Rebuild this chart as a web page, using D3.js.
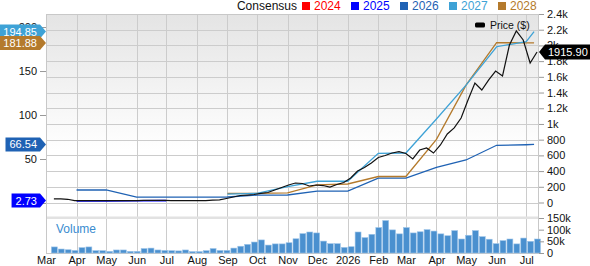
<!DOCTYPE html>
<html>
<head>
<meta charset="utf-8">
<script src="https://cdn.jsdelivr.net/npm/d3@7"></script>
<style>
  body { margin: 0; background: #fff; }
  svg text { font-family: "Liberation Sans", Arial, sans-serif; }
</style>
</head>
<body>
<div id="chart"></div>
<script>
// weekly volume (thousands), first week starts 2025-03-06
const volumeK = [26,17,14,11,23,26,10,10,7,13,13,7,7,19,21,13,11,10,9,13,6,6,10,19,11,11,21,29,37,47,
  56,34,39,39,44,61,83,90,86,51,40,40,24,27,90,66,80,109,139,99,82,109,86,91,100,94,82,74,96,60,
  76,96,70,59,40,53,60,39,64,50,60];
// weekly close price ($), same weeks
const price = [45,45,41,25,23,23,23,23,24,24,25,25,25,26,27,27,26,24,24,23,23,24,25,29,34,51,70,89,95,102,
  115,127,159,191,223,248,242,210,223,216,197,229,255,312,401,446,503,573,598,630,647,624,554,668,694,630,
  732,872,949,1076,1305,1522,1432,1560,1674,1611,2005,2184,2069,1776,1915.9];

// consensus EPS estimates
const dates2025 = ["2025-04-01","2025-05-01","2025-06-01","2025-07-01"];
const eps2025 = [2.3,2.35,2.6,2.73];
const dates2026 = ["2025-04-01","2025-05-01","2025-06-01","2025-07-01","2025-08-01","2025-09-01","2025-10-01",
  "2025-11-01","2025-12-01","2026-01-01","2026-02-01","2026-03-01","2026-04-01","2026-05-01","2026-06-01","2026-07-01","2026-07-09"];
const eps2026 = [14.8,14.8,6.6,6.6,6.6,6.8,9.0,9.1,13.6,13.6,28.2,28.2,40.6,48.9,65.6,66.2,66.54];
const datesLate = ["2025-09-01","2025-10-01","2025-11-01","2025-12-01","2026-01-01","2026-02-01","2026-03-01",
  "2026-04-01","2026-05-01","2026-06-01","2026-07-01","2026-07-09"];
const eps2027 = [10.2,11,18.5,24.7,24.7,56.5,56.8,95.5,134,177.6,183.3,194.85];
const eps2028 = [11,11,11.4,20.5,21.6,30.1,30.1,72.4,134,182.2,182,181.88];

const legendYears = ["2024","2025","2026","2027","2028"];
const yearColors = ["#ff0000","#0000ff","#1f62b4","#3ea2d6","#b47a2c"];
const priceTicks = [0,200,400,600,800,1000,1200,1400,1600,1800,2000,2200,2400];
const epsTicks = [0,50,100,150,200];
const volTicks = [0,50,100,150];

const W = 590, H = 266;
const L = 46, R = 539, T = 14, PB = 202.5, VT = 218, VB = 253;
const parse = d3.utcParse("%Y-%m-%d");
const week0 = parse("2025-03-06");
const weeks = volumeK.map((v, i) => d3.utcDay.offset(week0, 7 * i));

const x = d3.scaleUtc().domain([parse("2025-03-01"), parse("2026-07-14")]).range([L, R]);
const yL = d3.scaleLinear().domain([0, 214.8]).range([203, T]);
const yR = d3.scaleLinear().domain([0, 2400]).range([PB, T]);
const yV = d3.scaleLinear().domain([0, 150]).range([VB, VT]);

const svg = d3.select("#chart").append("svg").attr("width", W).attr("height", H);

const grad = svg.append("defs").append("linearGradient")
  .attr("id", "bg").attr("gradientUnits", "userSpaceOnUse")
  .attr("x1", 0).attr("x2", 0).attr("y1", T).attr("y2", 150);
grad.append("stop").attr("offset", 0).attr("stop-color", "#e4e4e4");
grad.append("stop").attr("offset", 1).attr("stop-color", "#ffffff");

svg.append("rect").attr("x", L).attr("y", T).attr("width", R - L).attr("height", VB - T).attr("fill", "url(#bg)");

// grid
const months = d3.utcMonth.range(parse("2025-04-01"), parse("2026-07-02"));
svg.append("g").selectAll("line").data(months).join("line")
  .attr("x1", d => Math.round(x(d)) + 0.5).attr("x2", d => Math.round(x(d)) + 0.5)
  .attr("y1", T).attr("y2", VB).attr("stroke", "#cccccc");
svg.append("g").selectAll("line").data(priceTicks).join("line")
  .attr("x1", L).attr("x2", R)
  .attr("y1", d => Math.round(yR(d)) + 0.5).attr("y2", d => Math.round(yR(d)) + 0.5)
  .attr("stroke", "#cccccc");
svg.append("rect").attr("x", L).attr("y", VT - 1.5).attr("width", R - L).attr("height", 2.5).attr("fill", "#e2e2e2");
svg.append("rect").attr("x", L + 0.5).attr("y", T + 0.5).attr("width", R - L - 1).attr("height", VB - T)
  .attr("fill", "none").attr("stroke", "#c8c8c8");

// volume
svg.append("g").selectAll("rect").data(weeks).join("rect")
  .attr("x", d => x(d) + 0.5)
  .attr("width", d => x(d3.utcDay.offset(d, 7)) - x(d) - 1)
  .attr("y", (d, i) => yV(volumeK[i]))
  .attr("height", (d, i) => VB - yV(volumeK[i]))
  .attr("fill", "#4a90cf").attr("stroke", "#9cc4e8").attr("stroke-width", 0.6);

svg.append("text").attr("x", 56).attr("y", 233).attr("font-size", 12).attr("fill", "#3a8ccf").text("Volume");

// lines
const lineL = d3.line().x(d => x(d[0])).y(d => yL(d[1]));
function epsLine(dates, vals, color, w) {
  svg.append("path").datum(dates.map((d, i) => [parse(d), vals[i]]))
    .attr("d", lineL).attr("fill", "none").attr("stroke", color).attr("stroke-width", w);
}
epsLine(dates2026, eps2026, yearColors[2], 1.3);
epsLine(dates2025, eps2025, yearColors[1], 1.6);
epsLine(datesLate, eps2028, yearColors[4], 1.3);
epsLine(datesLate, eps2027, yearColors[3], 1.3);

const lineP = d3.line().x(d => x(d3.utcDay.offset(d[0], 3.5))).y(d => yR(d[1]));
svg.append("path").datum(weeks.map((d, i) => [d, price[i]]))
  .attr("d", lineP).attr("fill", "none").attr("stroke", "#111").attr("stroke-width", 1.2);

// axes
function styleAxis(g) {
  g.select(".domain").remove();
  g.selectAll(".tick line").attr("stroke", "#999");
  g.selectAll(".tick text").attr("font-size", 11).attr("fill", "#111")
    .attr("font-family", "'Liberation Sans', Arial, sans-serif");
}
svg.append("g").attr("transform", `translate(${R},0)`)
  .call(d3.axisRight(yR).tickValues(priceTicks).tickSize(5).tickPadding(3)
    .tickFormat(d => d === 0 ? "0" : (d < 1000 ? d : d3.format("~")(d / 1000) + "k")))
  .call(styleAxis);
svg.append("g").attr("transform", `translate(${R},0)`)
  .call(d3.axisRight(yV).tickValues(volTicks).tickSize(5).tickPadding(3)
    .tickFormat(d => d === 0 ? "0" : d + "k"))
  .call(styleAxis);
svg.append("g").attr("transform", `translate(${L},0)`)
  .call(d3.axisLeft(yL).tickValues(epsTicks).tickSize(6).tickPadding(3))
  .call(styleAxis);
svg.append("g").attr("transform", `translate(0,${VB})`)
  .call(d3.axisBottom(x).tickValues([parse("2025-03-01")].concat(months)).tickSize(0).tickPadding(3)
    .tickFormat(d => d.getUTCMonth() === 0 ? d.getUTCFullYear() : d3.utcFormat("%b")(d)))
  .call(styleAxis);

// value tags
function leftTag(v, label, color) {
  const y = yL(v), g = svg.append("g");
  const t = g.append("text").attr("x", 37).attr("y", y + 4).attr("text-anchor", "end")
    .attr("font-size", 11).attr("fill", "#fff").text(label);
  const w = t.node().getComputedTextLength();
  const x0 = 37 - w - 4;
  g.insert("path", "text").attr("fill", color)
    .attr("d", `M${x0},${y - 7}H40L46,${y}L40,${y + 7}H${x0}Z`);
}
leftTag(194.85, "194.85", yearColors[3]);
leftTag(181.88, "181.88", yearColors[4]);
leftTag(66.54, "66.54", yearColors[2]);
leftTag(2.73, "2.73", yearColors[1]);

const py = yR(price[price.length - 1]);
svg.append("path").attr("fill", "#000")
  .attr("d", `M539,${py}L545,${py - 7.5}H${W}V${py + 7.5}H545Z`);
svg.append("text").attr("x", 548).attr("y", py + 4).attr("font-size", 11).attr("fill", "#fff").text("1915.90");

// legends
svg.append("text").attr("x", 297).attr("y", 10).attr("text-anchor", "end").attr("font-size", 12)
  .attr("fill", "#111").text("Consensus");
const leg = svg.append("g").selectAll("g").data(legendYears).join("g")
  .attr("transform", (d, i) => `translate(${302 + 49 * i},0)`);
leg.append("rect").attr("y", 2).attr("width", 8).attr("height", 8).attr("fill", (d, i) => yearColors[i]);
leg.append("text").attr("x", 12).attr("y", 10).attr("font-size", 12).attr("fill", (d, i) => yearColors[i]).text(d => d);

svg.append("rect").attr("x", 475).attr("y", 22.5).attr("width", 10).attr("height", 5).attr("rx", 1.5).attr("fill", "#000");
svg.append("text").attr("x", 490).attr("y", 29).attr("font-size", 10.5).attr("fill", "#111").text("Price ($)");
</script>
</body>
</html>
